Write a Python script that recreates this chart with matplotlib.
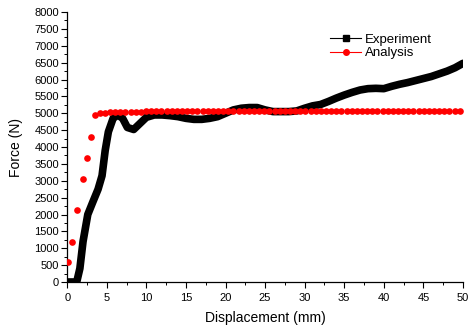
import matplotlib.pyplot as plt
from matplotlib.ticker import MultipleLocator

plt.rcParams['font.family'] = ['Liberation Sans', 'DejaVu Sans']

# -------------------------- data --------------------------
exp_disp = [0, 1.2, 1.6, 2.0, 2.6, 3.2, 3.9, 4.4, 4.8, 5.2, 5.8, 6.4, 7.0, 7.6, 8.4, 9.2,
            10, 11, 12, 13, 14, 15, 16, 17, 18, 19, 20, 21, 22, 23, 24, 25, 26, 27, 28, 29,
            30, 31, 32, 33, 34, 35, 36, 37, 38, 39, 40, 41, 42, 43, 44, 45, 46, 47, 48, 49, 50]
exp_force = [0, 0, 400, 1200, 2000, 2350, 2750, 3150, 3900, 4450, 4850, 4950, 4850, 4580, 4520, 4700,
             4880, 4950, 4950, 4930, 4900, 4850, 4820, 4820, 4850, 4900, 5000, 5100, 5150, 5170, 5170,
             5100, 5050, 5050, 5050, 5070, 5150, 5220, 5260, 5350, 5450, 5540, 5620, 5690, 5730, 5740,
             5730, 5800, 5860, 5910, 5970, 6030, 6090, 6170, 6250, 6350, 6480]

ana_disp = [0.15, 0.6, 1.3, 2.0, 2.45, 3.0, 3.55,
            4.1, 4.75, 5.4, 6.05, 6.7, 7.35, 8.0, 8.65, 9.3, 9.95, 10.6, 11.25, 11.9, 12.55,
            13.2, 13.85, 14.5, 15.15, 15.8, 16.45, 17.1, 17.75, 18.4, 19.05, 19.7, 20.35, 21.0,
            21.65, 22.3, 22.95, 23.6, 24.25, 24.9, 25.55, 26.2, 26.85, 27.5, 28.15, 28.8, 29.45,
            30.1, 30.75, 31.4, 32.05, 32.7, 33.35, 34.0, 34.65, 35.3, 35.95, 36.6, 37.25, 37.9,
            38.55, 39.2, 39.85, 40.5, 41.15, 41.8, 42.45, 43.1, 43.75, 44.4, 45.05, 45.7, 46.35,
            47.0, 47.65, 48.3, 48.95, 49.6]
ana_force = [590, 1200, 2140, 3060, 3680, 4300, 4960,
             5010, 5020, 5030, 5040, 5040, 5050, 5050, 5050, 5050, 5060, 5060, 5060, 5060, 5060,
             5060, 5060, 5060, 5060, 5060, 5060, 5060, 5060, 5060, 5060, 5060, 5060, 5060,
             5060, 5060, 5060, 5060, 5060, 5060, 5060, 5060, 5060, 5060, 5060, 5060, 5060,
             5060, 5060, 5060, 5060, 5060, 5060, 5060, 5060, 5060, 5060, 5060, 5060, 5060,
             5060, 5060, 5060, 5060, 5060, 5060, 5060, 5060, 5060, 5060, 5060, 5060, 5060,
             5060, 5060, 5060, 5060, 5060]

# -------------------------- figure --------------------------
fig = plt.figure(figsize=(4.7, 3.26), dpi=100)
ax = fig.add_axes([0.143, 0.135, 0.842, 0.828])

ax.plot(exp_disp, exp_force, color='black', linewidth=5.5, solid_joinstyle='round',
        solid_capstyle='round', zorder=2)
ax.plot(ana_disp, ana_force, linestyle='none', marker='o', markersize=4.8,
        color='#ff0000', markeredgewidth=0, zorder=3)

# legend handles
ax.plot([], [], color='black', linewidth=0.8, marker='s', markersize=4, label='Experiment')
ax.plot([], [], color='#ff0000', linewidth=0.8, marker='o', markersize=4, label='Analysis')
ax.legend(loc='upper left', bbox_to_anchor=(0.64, 0.955), frameon=False, fontsize=9.5,
          handlelength=2.4, handletextpad=0.3, labelspacing=0.1, borderpad=0.2)

ax.set_xlim(0, 50)
ax.set_ylim(0, 8000)
ax.xaxis.set_major_locator(MultipleLocator(5))
ax.xaxis.set_minor_locator(MultipleLocator(2.5))
ax.yaxis.set_major_locator(MultipleLocator(500))
ax.yaxis.set_minor_locator(MultipleLocator(250))
ax.tick_params(which='major', direction='out', length=4, width=0.8, labelsize=8, pad=2)
ax.tick_params(axis='x', which='major', pad=4)
ax.tick_params(which='minor', direction='out', length=2, width=0.7)

for side in ['top', 'right']:
    ax.spines[side].set_visible(False)
for side in ['left', 'bottom']:
    ax.spines[side].set_linewidth(0.9)

ax.set_xlabel('Displacement (mm)', fontsize=10, labelpad=6)
ax.set_ylabel('Force (N)', fontsize=10, labelpad=8)

fig.savefig('out.png', dpi=100)
